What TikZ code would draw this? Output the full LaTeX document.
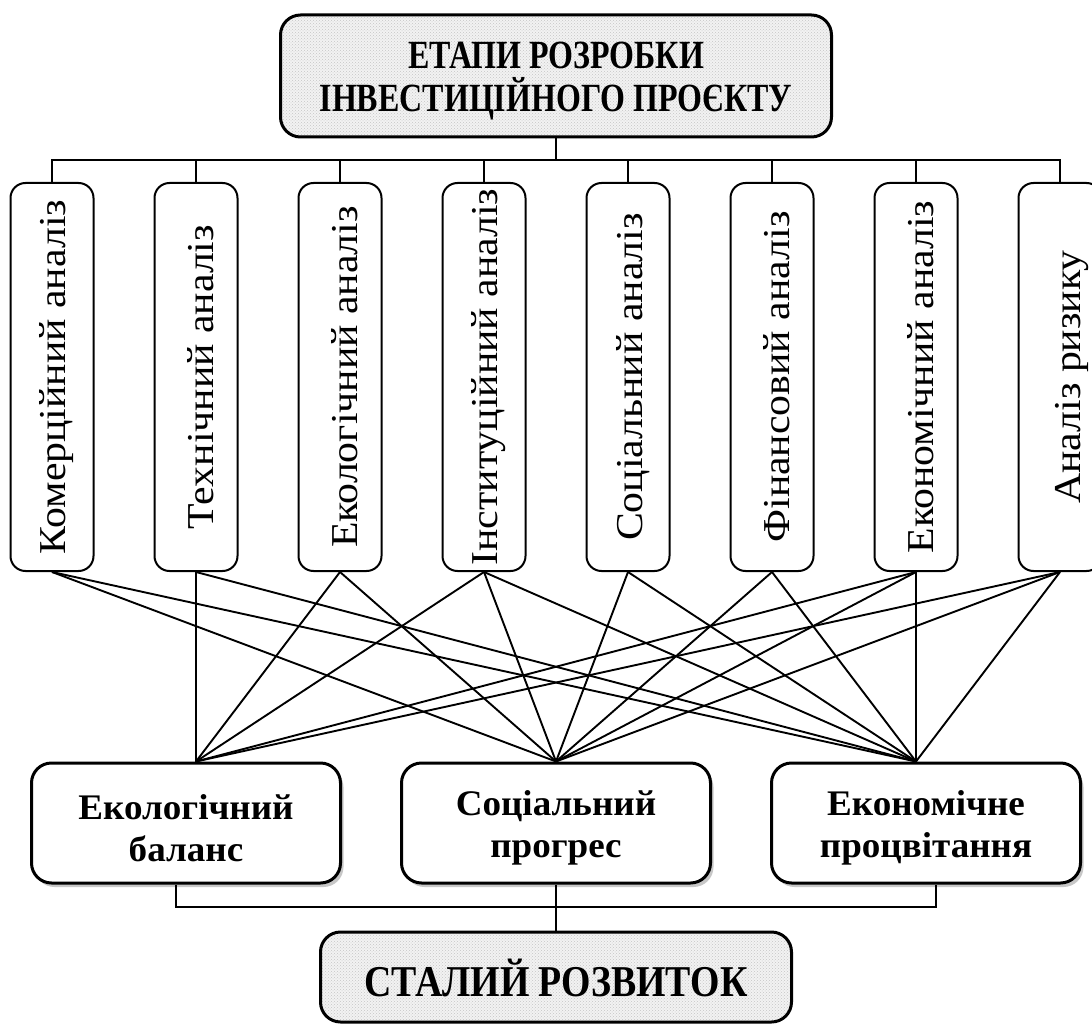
\documentclass[tikz,border=0pt]{standalone}
\usepackage{fontspec}
\setmainfont{Liberation Serif}
\newfontfamily\vtxt{Liberation Serif}[FakeStretch=1.1]
\newcommand{\sqz}[2]{\scalebox{#1}[1]{#2}}
\usetikzlibrary{patterns,shadows}
\begin{document}
\begin{tikzpicture}[x=1pt,y=-1pt,
  stipple/.style={preaction={fill=gray!10}, pattern=crosshatch dots, pattern color=gray!45},
  tbox/.style={draw, line width=3pt, rounded corners=20pt, stipple,
    minimum width=551pt, minimum height=122pt, inner sep=0pt},
  ttext/.style={align=center, inner sep=0pt, font=\bfseries\fontsize{40}{43}\selectfont},
  vbox/.style={draw, line width=2pt, rounded corners=15pt, fill=white,
    minimum width=83pt, minimum height=388pt, inner sep=0pt},
  vlabel/.style={rotate=90, inner sep=0pt, font=\vtxt\fontsize{38}{44}\selectfont},
  mbox/.style={draw, line width=3pt, rounded corners=20pt, fill=white,
    minimum width=309pt, minimum height=120pt, inner sep=0pt,
    drop shadow={shadow xshift=3pt, shadow yshift=-4pt, opacity=0.22, fill=black}},
  mtext/.style={align=center, inner sep=0pt, font=\bfseries\fontsize{36}{42}\selectfont},
  sbox/.style={draw, line width=3pt, rounded corners=20pt, stipple,
    minimum width=471pt, minimum height=90pt, inner sep=0pt},
  stext/.style={inner sep=0pt, font=\bfseries\fontsize{44}{48}\selectfont},
  bus/.style={line width=1.8pt},
  link/.style={line width=1.9pt}
]
\useasboundingbox (0,0) rectangle (1092,1024);

% top box
\node[tbox] (tb) at (556,76) {};
\node[ttext] (tbt) at ([yshift=-5pt]tb.center)
  {\sqz{0.8}{ЕТАПИ РОЗРОБКИ}\\\sqz{0.8}{ІНВЕСТИЦІЙНОГО ПРОЄКТУ}};

% vertical analysis boxes
\foreach \i/\t/\dx in {1/Комерційний аналіз/5, 2/Технічний аналіз/5, 3/Екологічний аналіз/5,
  4/Інституційний аналіз/5, 5/Соціальний аналіз/5, 6/Фінансовий аналіз/5,
  7/Економічний аналіз/5, 8/Аналіз ризику/12} {
  \node[vbox] (v\i) at ({52+144*(\i-1)},377) {};
  \node[vlabel] (v\i t) at ([xshift=\dx pt]v\i.center) {\t};
}

% top bus
\coordinate (bus) at (tb.south |- 0,160);
\draw[bus] (tb.south) -- (bus);
\draw[bus] (v1.north) |- (bus) -| (v8.north);
\foreach \i in {2,...,7} \draw[bus] (v\i.north) -- (v\i.north |- bus);

% middle boxes
\node[mbox] (eb) at (186,823) {};
\node[mbox] (sp) at (556,823) {};
\node[mbox] (ep) at (926,823) {};
\node[mtext] (ebt) at ([yshift=-5pt]eb.center) {\sqz{1.03}{Екологічний}\\\sqz{1.03}{баланс}};
\node[mtext] (spt) at ([yshift=-5pt]sp.center) {\sqz{1.03}{Соціальний}\\\sqz{1.03}{прогрес}};
\node[mtext] (ept) at ([yshift=-5pt]ep.center) {\sqz{1.03}{Економічне}\\\sqz{1.03}{процвітання}};

\coordinate (ebin) at ([xshift=10pt]eb.north);
\coordinate (epin) at ([xshift=-10pt]ep.north);

% connectors
\foreach \i in {2,3,4,7,8} \draw[link] (v\i.south) -- (ebin);
\foreach \i in {1,3,4,5,6,7,8} \draw[link] (v\i.south) -- (sp.north);
\foreach \i in {1,2,4,5,6,7,8} \draw[link] (v\i.south) -- (epin);

% bottom box
\node[sbox] (sd) at (556,977) {};
\node[stext] (sdt) at ([yshift=-1pt]sd.center) {\sqz{0.86}{СТАЛИЙ РОЗВИТОК}};

\coordinate (bbus) at (sd.north |- 0,907);
\draw[bus] ([xshift=-10pt]eb.south) |- (bbus) -| ([xshift=10pt]ep.south);
\draw[bus] (sp.south) -- (sd.north);
\end{tikzpicture}
\end{document}
